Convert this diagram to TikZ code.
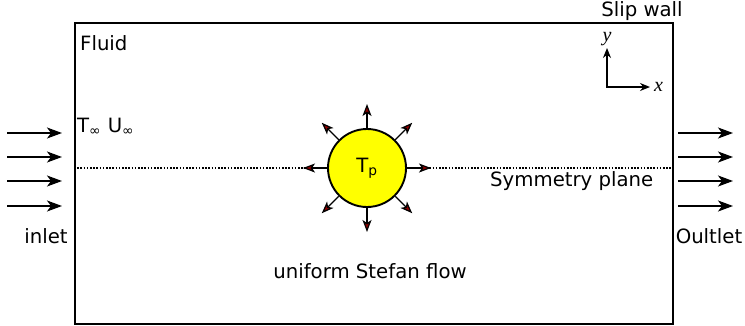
\documentclass[tikz,border=0pt]{standalone}
\usepackage{fontspec}
\setmainfont{DejaVu Sans}
\newfontfamily\axisfont{Liberation Serif}
\usetikzlibrary{arrows.meta,calc,positioning}
\definecolor{ParticleYellow}{HTML}{FFFF00}
\definecolor{TipRed}{HTML}{8B0000}

\begin{document}
\begin{tikzpicture}[x=1pt,y=-1pt,
    lbl/.style={font=\fontsize{19.7}{23}\selectfont,inner sep=0pt},
    axlbl/.style={font=\axisfont\itshape\fontsize{20}{23}\selectfont,inner sep=0pt},
    flow/.style={-{Stealth[length=15pt,width=11pt,inset=4pt]},line width=1.3pt},
    radial/.style={-{Stealth[length=12pt,width=9pt,inset=3pt,fill=TipRed]},line width=1.2pt},
    axarr/.style={{Stealth[length=10pt,width=8pt]}-{Stealth[length=10pt,width=8pt]},line width=1.4pt},
    sym/.style={line width=1.3pt,dash pattern=on 1.6pt off 1.6pt}]
    \useasboundingbox (0,0) rectangle (745,325);
    \node[draw,line width=1.7pt,minimum width=598pt,minimum height=301pt,
          inner sep=0pt,anchor=north west] (domain) at (74,22) {};
    % particle and symmetry line
    \node[circle,draw,line width=1.9pt,fill=ParticleYellow,minimum size=78pt,
          inner sep=0pt,lbl] (part) at (367,168) {T\textsubscript{p}};
    \draw[sym] (domain.west |- part.center) -- (part.west);
    \draw[sym] (part.east) -- (domain.east |- part.center);
    \foreach \a in {0,45,...,315}
      \draw[radial] (part.\a) -- ($(part.center)!64pt!(part.\a)$);
    % inflow and outflow
    \foreach \y [count=\i] in {133,157,181,206} {
      \coordinate (inS\i) at (7,\y);
      \coordinate (inE\i) at (62,\y);
      \coordinate (outS\i) at (678,\y);
      \coordinate (outE\i) at (733,\y);
      \draw[flow] (inS\i) -- (inE\i);
      \draw[flow] (outS\i) -- (outE\i);
    }
    % axes
    \coordinate (orig) at (607,87);
    \coordinate (yend) at (607,48);
    \coordinate (xend) at (650,87);
    \draw[axarr] (yend) |- (xend);
    \node[axlbl,above=2pt of yend] (ylbl) {y};
    \node[axlbl,right=4pt of xend] (xlbl) {x};
    % labels
    \node[lbl] (slip) at (642,11) {Slip wall};
    \node[lbl,anchor=west] (fluid) at (80,43) {Fluid};
    \node[lbl,anchor=west] (inf) at (77,127) {T\textsubscript{∞}\,\,U\textsubscript{∞}};
    \node[lbl,anchor=west] (symlbl) at (490,181) {Symmetry plane};
    \node[lbl] (inlet) at (46,236) {inlet};
    \node[lbl] (outlet) at (709,236) {Oultlet};
    \node[lbl] (stefan) at (370,271) {uniform Stefan flow};
\end{tikzpicture}
\end{document}
